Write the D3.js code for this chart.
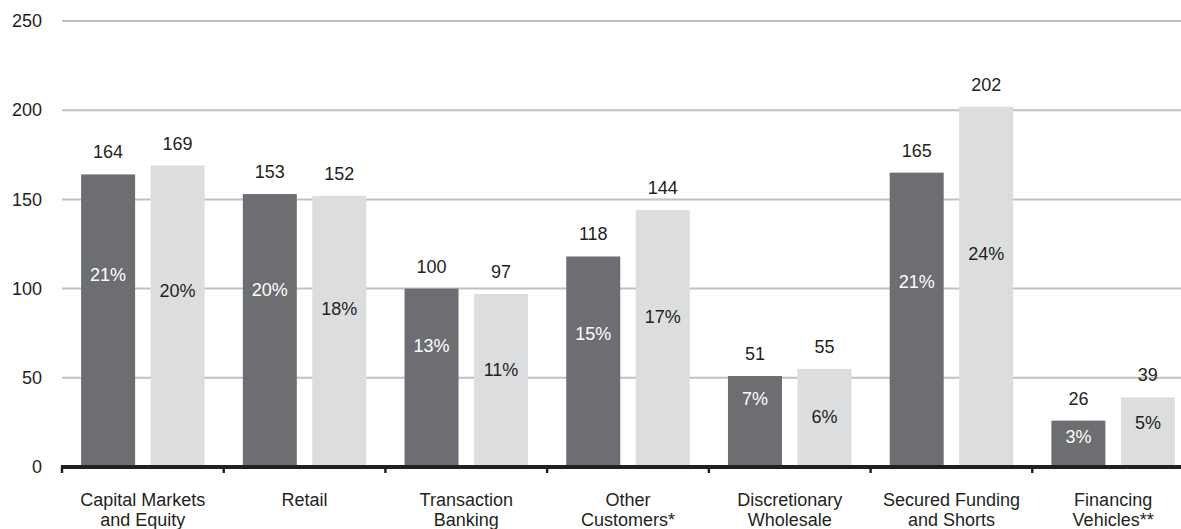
<!DOCTYPE html>
<html>
<head>
<meta charset="utf-8">
<script src="https://cdn.jsdelivr.net/npm/d3@7/dist/d3.min.js"></script>
<style>
  html, body { margin: 0; padding: 0; background: #ffffff; }
  svg { display: block; font-family: "Liberation Sans", Arial, Helvetica, sans-serif; }
</style>
</head>
<body>
<svg id="chart" width="1181" height="529"></svg>
<script>
// Category labels (each entry is the lines of a wrapped label)
const categories = [
  ["Capital Markets", "and Equity"],
  ["Retail"],
  ["Transaction", "Banking"],
  ["Other", "Customers*"],
  ["Discretionary", "Wholesale"],
  ["Secured Funding", "and Shorts"],
  ["Financing", "Vehicles**"]
];
const seriesNames = ["prior", "current"];

// Amounts per category
const priorValues   = [164, 153, 100, 118, 51, 165, 26];
const currentValues = [169, 152, 97, 144, 55, 202, 39];

// Share of total per category
const priorShares   = ["21%", "20%", "13%", "15%", "7%", "21%", "3%"];
const currentShares = ["20%", "18%", "11%", "17%", "6%", "24%", "5%"];

// Where each share label sits, in axis units
const priorShareAt   = [107.6, 99.2, 67.8, 74.6, 38.1, 103.7, 16.8];
const currentShareAt = [98.8, 88.6, 54.4, 84.1, 28.0, 119.4, 24.7];

const yTicks = [0, 50, 100, 150, 200, 250];

const colors = { prior: "#6d6e71", current: "#dcdddf" };
const textColor = "#231f20";
const gridColor = "#c0c1c3";

const svg = d3.select("#chart");
const plotLeft = 62, plotTop = 21, plotBottom = 467, plotRight = 1194;

const keys = categories.map(c => c.join(" "));
const x0 = d3.scaleBand().domain(keys).range([plotLeft, plotRight]).padding(0);
const x1 = d3.scaleBand().domain(seriesNames).range([0, x0.bandwidth()])
  .paddingInner(0.223).paddingOuter(0.275);
const y = d3.scaleLinear().domain([0, 250]).range([plotBottom, plotTop]);

// Horizontal gridlines
svg.append("g")
  .selectAll("line")
  .data(yTicks.filter(t => t > 0))
  .join("line")
  .attr("x1", plotLeft).attr("x2", plotRight)
  .attr("y1", d => y(d)).attr("y2", d => y(d))
  .attr("stroke", gridColor).attr("stroke-width", 2);

// Y axis labels
const yAxis = svg.append("g")
  .attr("transform", `translate(${plotLeft},0)`)
  .call(d3.axisLeft(y).tickValues(yTicks).tickSize(0).tickPadding(20));
yAxis.select(".domain").remove();
yAxis.selectAll("text")
  .attr("font-size", 18).attr("fill", textColor)
  .attr("font-family", "Liberation Sans, Arial, sans-serif");

// Bars
const rows = keys.map((k, i) => ({
  key: k,
  items: [
    { s: "prior", v: priorValues[i], share: priorShares[i], at: priorShareAt[i] },
    { s: "current", v: currentValues[i], share: currentShares[i], at: currentShareAt[i] }
  ]
}));

const groups = svg.append("g")
  .selectAll("g")
  .data(rows)
  .join("g")
  .attr("transform", d => `translate(${x0(d.key)},0)`);

groups.selectAll("rect")
  .data(d => d.items)
  .join("rect")
  .attr("x", d => x1(d.s))
  .attr("width", x1.bandwidth())
  .attr("y", d => y(d.v))
  .attr("height", d => y(0) - y(d.v))
  .attr("fill", d => colors[d.s]);

// Value labels above bars
groups.selectAll("text.value")
  .data(d => d.items)
  .join("text")
  .attr("class", "value")
  .attr("x", d => x1(d.s) + x1.bandwidth() / 2)
  .attr("y", d => y(d.v) - 16)
  .attr("text-anchor", "middle")
  .attr("font-size", 18)
  .attr("fill", textColor)
  .text(d => d.v);

// Share labels inside bars
groups.selectAll("text.share")
  .data(d => d.items)
  .join("text")
  .attr("class", "share")
  .attr("x", d => x1(d.s) + x1.bandwidth() / 2)
  .attr("y", d => y(d.at))
  .attr("dy", "0.35em")
  .attr("text-anchor", "middle")
  .attr("font-size", 18)
  .attr("fill", d => d.s === "prior" ? "#ffffff" : textColor)
  .text(d => d.share);

// Baseline axis with ticks at category boundaries
const axis = svg.append("g");
axis.append("line")
  .attr("x1", plotLeft - 1).attr("x2", plotRight)
  .attr("y1", y(0)).attr("y2", y(0))
  .attr("stroke", textColor).attr("stroke-width", 4);
axis.selectAll("line.tick")
  .data(keys)
  .join("line")
  .attr("class", "tick")
  .attr("x1", d => x0(d)).attr("x2", d => x0(d))
  .attr("y1", y(0)).attr("y2", y(0) + 6)
  .attr("stroke", textColor).attr("stroke-width", 2.5);

// Category labels
const catLabels = svg.append("g")
  .selectAll("text")
  .data(categories)
  .join("text")
  .attr("x", (d, i) => x0(keys[i]) + x0.bandwidth() / 2)
  .attr("y", 506)
  .attr("text-anchor", "middle")
  .attr("font-size", 18)
  .attr("fill", textColor);
catLabels.selectAll("tspan")
  .data(d => d)
  .join("tspan")
  .attr("x", function () { return d3.select(this.parentNode).attr("x"); })
  .attr("dy", (d, j) => j === 0 ? 0 : 20)
  .text(d => d);
</script>
</body>
</html>
